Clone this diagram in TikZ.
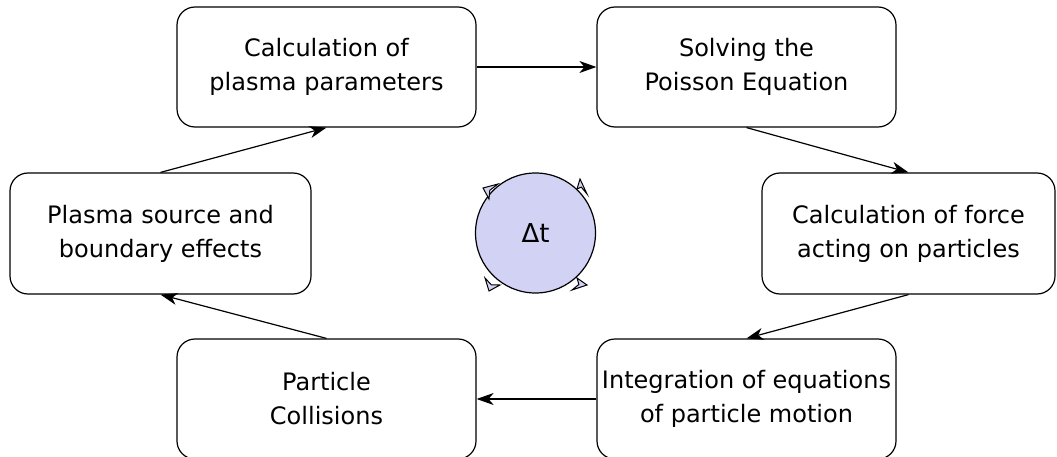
\documentclass[tikz,border=0pt]{standalone}
\usepackage{fontspec}
\setmainfont{DejaVu Sans}
\usetikzlibrary{arrows.meta}
\definecolor{cyc}{RGB}{210,210,245}
\tikzset{
  box/.style={draw=black, line width=1.2pt, rounded corners=18pt, fill=white,
    align=center, inner sep=0pt, font=\fontsize{24}{34}\selectfont},
  flow/.style={draw=black, line width=1.2pt, -{Stealth[length=17pt,width=12pt,inset=5pt]}},
  smallhead/.style={draw=black, line width=1pt, line join=miter, fill=cyc}
}
\begin{document}
\begin{tikzpicture}[x=1pt,y=-1pt]
\useasboundingbox (0,0) rectangle (1057,457);
\node[box, minimum width=299pt, minimum height=120pt] (b1) at (326.5,67) {Calculation of\\plasma parameters};
\node[box, minimum width=299pt, minimum height=120pt] (b2) at (746.5,67) {Solving the\\Poisson Equation};
\node[box, minimum width=293pt, minimum height=121pt] (b3) at (908.5,233.5) {Calculation of force\\acting on particles};
\node[box, minimum width=299pt, minimum height=120pt] (b4) at (746.5,399) {Integration of equations\\of particle motion};
\node[box, minimum width=299pt, minimum height=120pt] (b5) at (326.5,399) {Particle\\Collisions};
\node[box, minimum width=301pt, minimum height=121pt] (b6) at (160.5,233.5) {Plasma source and\\boundary effects};

\draw[flow] (b1.east) -- (b2.west);
\draw[flow] (b2.south) -- (b3.north);
\draw[flow] (b3.south) -- (b4.north);
\draw[flow] (b4.west) -- (b5.east);
\draw[flow] (b5.north) -- (b6.south);
\draw[flow] (b6.north) -- (b1.south);

\node[circle, draw=black, line width=1.2pt, fill=cyc, minimum size=120pt, inner sep=0pt,
  font=\fontsize{26}{30}\selectfont] (dt) at (535.5,233) {Δt};
\draw[smallhead] (483,188) -- (498,184) -- (489.8,190.3) -- (489,199) -- cycle;
\draw[smallhead] (580,179) -- (577,189) -- (581.3,187.1) -- (587,194) -- cycle;
\draw[smallhead] (489,291) -- (485,278) -- (491.3,284.8) -- (500,285) -- cycle;
\draw[smallhead] (587,285) -- (577,278) -- (578.9,284.4) -- (572,290) -- cycle;
\end{tikzpicture}
\end{document}
